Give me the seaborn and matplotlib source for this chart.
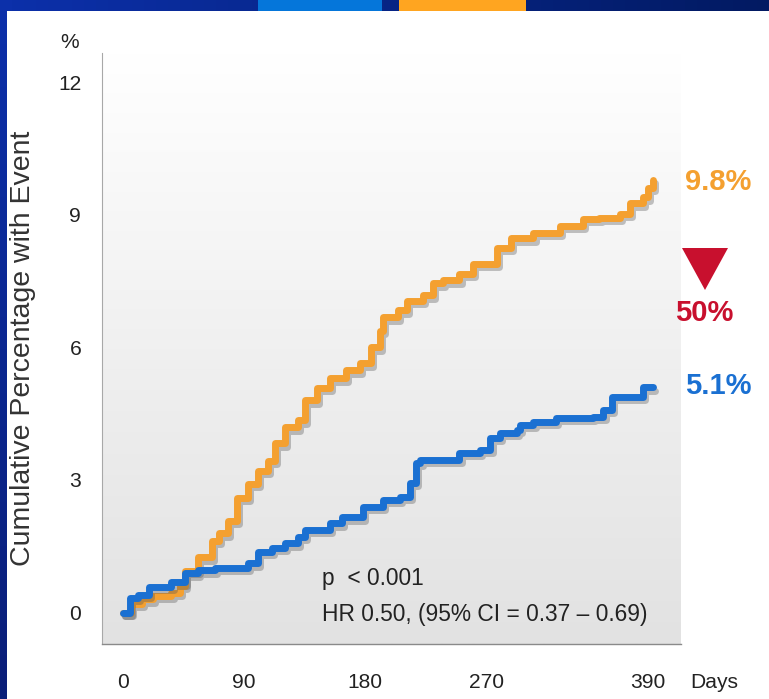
import numpy as np
import matplotlib
matplotlib.use("Agg")
import matplotlib.pyplot as plt
import matplotlib.patheffects as pe
from matplotlib import font_manager
from matplotlib.colors import LinearSegmentedColormap
from matplotlib.patches import Rectangle, Polygon
import seaborn as sns

# Kaplan-Meier style cumulative event curves (day, cumulative %)
placebo_days = [0, 6, 14, 22, 36, 42, 46, 56, 66, 71, 78, 85, 93, 100, 108, 113,
                120, 130, 135, 144, 154, 166, 176, 184, 191, 193, 204, 211, 223,
                230, 238, 250, 260, 278, 288, 305, 325, 342, 354, 369, 377, 386,
                390, 394]
placebo_pct = [0, 0.20, 0.30, 0.38, 0.45, 0.60, 0.95, 1.25, 1.63, 1.79, 2.08, 2.60,
               2.92, 3.21, 3.44, 3.83, 4.19, 4.35, 4.80, 5.09, 5.30, 5.48, 5.64,
               6.00, 6.38, 6.68, 6.84, 7.06, 7.18, 7.45, 7.52, 7.67, 7.90, 8.26,
               8.47, 8.60, 8.76, 8.92, 8.94, 9.03, 9.26, 9.40, 9.62, 9.8]

treated_days = [0, 5, 11, 19, 36, 46, 56, 68, 93, 100, 111, 120, 130, 135, 154,
                163, 178, 193, 206, 213, 218, 221, 250, 265, 273, 280, 293, 295,
                305, 322, 349, 357, 363, 386, 394]
treated_pct = [0, 0.33, 0.40, 0.58, 0.69, 0.89, 0.96, 1.01, 1.12, 1.37, 1.46,
               1.57, 1.71, 1.87, 2.02, 2.16, 2.39, 2.55, 2.62, 2.94, 3.39, 3.46,
               3.62, 3.69, 3.96, 4.07, 4.14, 4.25, 4.32, 4.41, 4.43, 4.59, 4.88,
               5.1, 5.1]

x_ticks = [0, 90, 180, 270, 390]
y_ticks = [0, 3, 6, 9, 12]
relative_reduction = 50
stats_lines = ["p  < 0.001", "HR 0.50, (95% CI = 0.37 \u2013 0.69)"]

ORANGE = "#F4A030"
BLUE = "#1A70D2"
RED = "#C8102E"

sns.set_theme(style="white")
available = {f.name for f in font_manager.fontManager.ttflist}
if "Liberation Sans Narrow" in available:
    NARROW, k = "Liberation Sans Narrow", 1.0
else:
    NARROW, k = "Liberation Sans", 0.84
plt.rcParams["font.family"] = [NARROW, "DejaVu Sans"]

W, H = 769, 699
fig = plt.figure(figsize=(W / 100, H / 100), dpi=100)


def fx(px):
    return px / W


def fy(py):
    return 1 - py / H


# slide frame: dark blue gradient with white panel
bg = fig.add_axes([0, 0, 1, 1])
bg.set_axis_off()
gx, gy = np.meshgrid(np.linspace(0, 1, 64), np.linspace(0, 1, 64))
tl = np.array([12, 48, 170]) / 255
tr = np.array([2, 26, 98]) / 255
bl = np.array([10, 30, 120]) / 255
br = np.array([0, 18, 78]) / 255
top = tl[None, None, :] * (1 - gx[..., None]) + tr[None, None, :] * gx[..., None]
bot = bl[None, None, :] * (1 - gx[..., None]) + br[None, None, :] * gx[..., None]
frame = top * (1 - gy[..., None]) + bot * gy[..., None]
bg.imshow(frame, extent=[0, 1, 0, 1], aspect="auto", origin="upper")
bg.add_patch(Rectangle((fx(7), 0), 1 - fx(7), fy(11), color="white", lw=0))
bg.add_patch(Rectangle((fx(258), fy(11)), fx(124), 11 / H, color="#0576DA", lw=0))
bg.add_patch(Rectangle((fx(399), fy(11)), fx(127), 11 / H, color="#FFA520", lw=0))
bg.set_xlim(0, 1)
bg.set_ylim(0, 1)

# plotting area
ax = fig.add_axes([fx(102), fy(644), fx(681) - fx(102), fy(53) - fy(644)])
shade = LinearSegmentedColormap.from_list("shade", ["#e2e2e2", "#f0f0f0", "#ffffff"])
ax.imshow(np.linspace(0, 1, 256).reshape(-1, 1), cmap=shade, aspect="auto",
          extent=[0, 1, 0, 1], transform=ax.transAxes, origin="lower", zorder=0)

shadow = [pe.SimpleLineShadow(offset=(1.5, -2.5), shadow_color="#555555", alpha=0.35),
          pe.Normal()]
sns.lineplot(x=placebo_days, y=placebo_pct, ax=ax, color=ORANGE, linewidth=5,
             drawstyle="steps-post", estimator=None, sort=False,
             path_effects=shadow, zorder=3)
sns.lineplot(x=treated_days, y=treated_pct, ax=ax, color=BLUE, linewidth=5,
             drawstyle="steps-post", estimator=None, sort=False,
             path_effects=shadow, zorder=4)

ax.set_xlim(-15.6, 414.6)
ax.set_ylim(-0.713, 12.667)
ax.set_xticks(x_ticks)
ax.set_xticklabels([str(t) for t in x_ticks])
ax.set_yticks(y_ticks)
ax.set_yticklabels([str(t) for t in y_ticks])
ax.tick_params(axis="both", length=0, colors="#222222", labelsize=18 * k)
ax.tick_params(axis="x", pad=21)
ax.tick_params(axis="y", pad=15)
ax.grid(False)
for side in ("top", "right"):
    ax.spines[side].set_visible(False)
ax.spines["left"].set_color("#a8a8a8")
ax.spines["left"].set_linewidth(0.8)
ax.spines["bottom"].set_color("#8a8a8a")
ax.spines["bottom"].set_linewidth(1.0)
ax.set_xlabel("")
ax.set_ylabel("Cumulative Percentage with Event", family=["Liberation Sans", "DejaVu Sans"],
              fontsize=20.5, color="#333333", labelpad=16)

# statistics box text
ax.text(fx(322), fy(578), stats_lines[0], transform=fig.transFigure, fontsize=19.5 * k,
        color="#222222", ha="left", va="center", zorder=6)
ax.text(fx(322), fy(615), stats_lines[1], transform=fig.transFigure, fontsize=19.5 * k,
        color="#222222", ha="left", va="center", zorder=6)

# axis unit labels
fig.text(fx(70), fy(42), "%", fontsize=18 * k, color="#222222", ha="center", va="center")
fig.text(fx(714), fy(683), "Days", fontsize=18 * k, color="#222222", ha="center", va="center")

# end-of-curve annotations
fig.text(fx(718), fy(182), f"{placebo_pct[-1]:.1f}%", fontsize=25 * k, fontweight="bold",
         color=ORANGE, ha="center", va="center")
fig.text(fx(718), fy(386), f"{treated_pct[-1]:.1f}%", fontsize=25 * k, fontweight="bold",
         color=BLUE, ha="center", va="center")
fig.text(fx(704), fy(313), f"{relative_reduction}%", fontsize=25 * k, fontweight="bold",
         color=RED, ha="center", va="center")
fig.add_artist(Polygon([(fx(682), fy(248)), (fx(728), fy(248)), (fx(705), fy(290))],
                       closed=True, transform=fig.transFigure, color=RED, lw=0))

fig.savefig("out.png", dpi=100)
